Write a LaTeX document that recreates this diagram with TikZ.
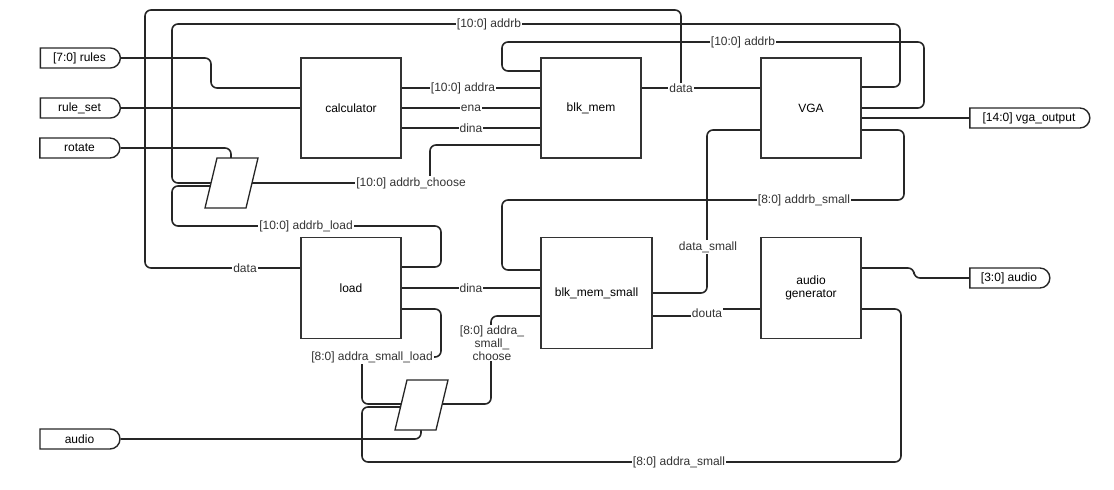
\documentclass[tikz,border=0pt]{standalone}
\usepackage{fontspec}
\setmainfont{Liberation Sans}
\usetikzlibrary{shapes.misc}
\tikzset{
  blk/.style={rectangle, draw=black!80, line width=1.3pt, fill=white, minimum width=100pt, minimum height=100pt, inner sep=0pt},
  port/.style={rounded rectangle, rounded rectangle west arc=none, draw=black!85, line width=1.4pt, minimum width=80pt, minimum height=20pt, inner sep=0pt},
  wire/.style={line width=1.6pt, black!85, rounded corners=6pt},
  lbl/.style={fill=white, inner sep=1pt, text=black!80},
  muxsh/.style={draw=black!85, line width=1.3pt, fill=white}
}
\begin{document}
\begin{tikzpicture}[x=1pt, y=-1pt, font=\fontsize{12}{13}\selectfont]
  \useasboundingbox (0,0) rectangle (1114,490);
  % inputs and outputs
  \node[port] (rules)    at (79.5,58)  {[7:0] rules};
  \node[port] (ruleset)  at (79.5,108) {rule\_set};
  \node[port] (rotate)   at (79.5,148) {rotate};
  \node[port] (audioin)  at (79.5,439) {audio};
  \node[port, minimum width=120pt] (vgaout) at (1029,118) {[14:0] vga\_output};
  \node[port] (audioout) at (1009,278) {[3:0] audio};

  % muxes
  \coordinate (mux1l) at (211,183);
  \coordinate (mux1r) at (252,183);
  \coordinate (mux1t) at (231,158);
  \coordinate (mux2l) at (401,404);
  \coordinate (mux2r) at (442,404);
  \coordinate (mux2b) at (421,430);

  % wires
  \draw[wire] (rules.east) -- (211,58) -- (211,88) -- (301,88);
  \draw[wire] (ruleset.east) -- (301,108);
  \draw[wire] (rotate.east) -- (231,148) -- (mux1t);
  \draw[wire] (401,88) -- (541,88);
  \draw[wire] (401,108) -- (541,108);
  \draw[wire] (401,128) -- (541,128);
  \draw[wire] (541,145) -- (430,145) -- (430,183) -- (mux1r);
  \draw[wire] (641,88) -- (761,88);
  \draw[wire] (681,88) -- (681,10) -- (145,10) -- (145,268) -- (301,268);
  \draw[wire] (861,87) -- (900,87) -- (900,24) -- (172,24) -- (172,183) -- (mux1l);
  \draw[wire] ([yshift=-3pt]mux1l) -- (172,186) -- (172,226) -- (441,226) -- (441,267) -- (401,267);
  \draw[wire] (861,108) -- (924,108) -- (924,42) -- (502,42) -- (502,71) -- (541,71);
  \draw[wire] (861,118) -- (vgaout.west);
  \draw[wire] (861,130) -- (904,130) -- (904,200) -- (502,200) -- (502,270) -- (541,270);
  \draw[wire] (401,288) -- (541,288);
  \draw[wire] (401,309) -- (441,309) -- (441,357) -- (362,357) -- (362,404) -- (mux2l);
  \draw[wire] (mux2r) -- (491,404) -- (491,316) -- (541,316);
  \draw[wire] (audioin.east) -- (421,439) -- (mux2b);
  \draw[wire] ([yshift=-3pt]mux2l) -- (362,407) -- (362,462) -- (901,462) -- (901,309) -- (861,309);
  \draw[wire] (652,293) -- (707,293) -- (707,130) -- (761,130);
  \draw[wire, rounded corners=2pt] (652,316) -- (707,316) -- (707,309) -- (761,309);
  \draw[wire] (861,268) -- (914,268) -- (914,278) -- (audioout.west);

  % mux shapes
  \draw[muxsh] (217,158) -- (258,158) -- (246,208) -- (205,208) -- cycle;
  \draw[muxsh] (407,380) -- (448,380) -- (436,430) -- (395,430) -- cycle;

  % blocks
  \node[blk] (calc)  at (351,108) {calculator};
  \node[blk] (mem)   at (591,108) {blk\_mem};
  \node[blk] (vga)   at (811,108) {VGA};
  \node[blk, minimum height=101pt] (load) at (351,288) {load};
  \node[blk, minimum width=111pt, minimum height=111pt] (small) at (596.5,293) {blk\_mem\_small};
  \node[blk, minimum height=101pt, align=center] (gen) at (811,288) {audio\\generator};

  % labels
  \node[lbl] at (489,24)  {[10:0] addrb};
  \node[lbl] at (743,42)  {[10:0] addrb};
  \node[lbl] at (463,88)  {[10:0] addra};
  \node[lbl] at (471,108) {ena};
  \node[lbl] at (471,128) {dina};
  \node[lbl] at (681,88)  {data};
  \node[lbl] at (411,183) {[10:0] addrb\_choose};
  \node[lbl] at (306,226) {[10:0] addrb\_load};
  \node[lbl] at (245,268) {data};
  \node[lbl] at (471,288) {dina};
  \node[lbl] at (804,200) {[8:0] addrb\_small};
  \node[lbl] at (708,247) {data\_small};
  \node[lbl] at (707,313) {douta};
  \node[lbl] at (372,357) {[8:0] addra\_small\_load};
  \node[lbl, align=center] at (492,343) {[8:0] addra\_\\small\_\\choose};
  \node[lbl] at (679,462) {[8:0] addra\_small};
\end{tikzpicture}
\end{document}
